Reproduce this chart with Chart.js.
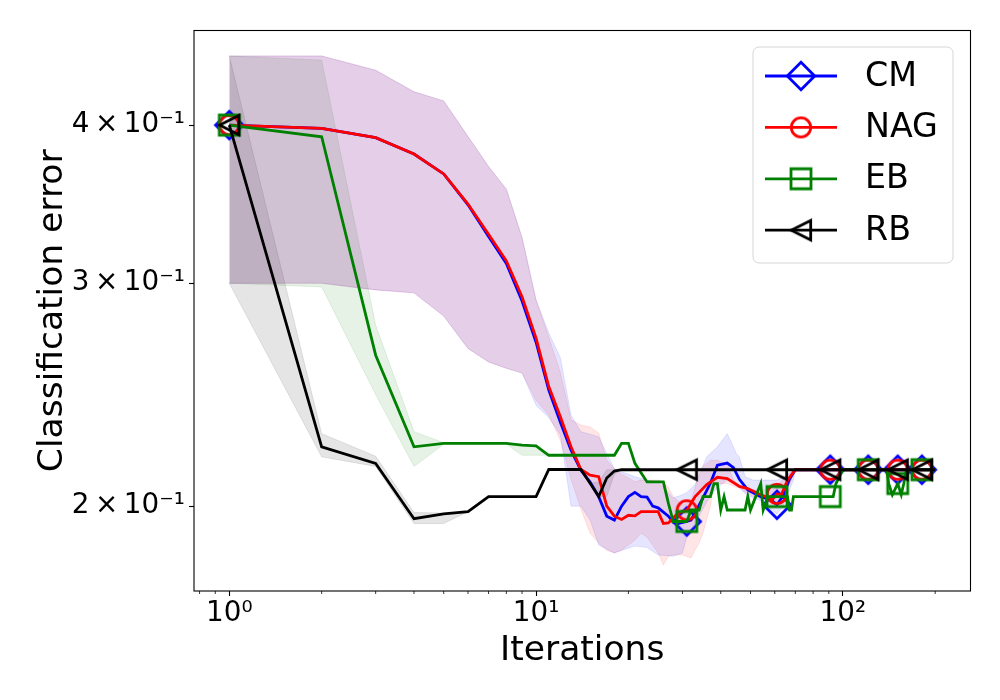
<!DOCTYPE html>
<html>
<head>
<meta charset="utf-8">
<script src="https://cdn.jsdelivr.net/npm/chart.js@4.4.0/dist/chart.umd.min.js"></script>
<style>
  html, body { margin: 0; padding: 0; background: #fff; }
  #wrap { width: 1000px; height: 700px; }
</style>
</head>
<body>
<div id="wrap"><canvas id="chart" width="1000" height="700"></canvas></div>
<script>
// mean curves (iteration -> classification error)
const cmX = [1,2,3,4,5,6,7,8,9,10,11,12,13,14,15,16,17,18,19,20,21,22,23,24,25,27,28,29,31,32,35,37,39,42,44,46,49,54,58,61,64,67,70,91,121,151,181,200];
const cmY = [0.4,0.3976,0.391,0.3795,0.366,0.346,0.3266,0.311,0.2905,0.2695,0.247,0.233,0.2214,0.2135,0.209,0.2035,0.1964,0.195,0.2,0.2035,0.2051,0.2035,0.2033,0.2,0.1994,0.1964,0.1942,0.1938,0.1945,0.195,0.203,0.2085,0.2155,0.2163,0.2145,0.21,0.206,0.2035,0.2025,0.2005,0.204,0.21,0.2137,0.2137,0.2137,0.2137,0.2137,0.2137];

const nagX = [1,2,3,4,5,6,7,8,9,10,11,12,13,14,15,16,17,18,19,20,21,22,25,26,27,29,31,33,36,39,42,46,49,54,59,61,63,66,70,91,121,151,181,200];
const nagY = [0.4,0.3976,0.391,0.3795,0.366,0.3465,0.328,0.3125,0.2927,0.2715,0.2486,0.2353,0.2228,0.2138,0.2116,0.211,0.2,0.1964,0.1952,0.1967,0.1965,0.198,0.198,0.1938,0.194,0.1975,0.1985,0.2035,0.208,0.2108,0.2103,0.2073,0.2065,0.2042,0.2025,0.2045,0.2042,0.2097,0.2137,0.2137,0.2137,0.2137,0.2137,0.2137];

const ebX = [1,2,3,4,5,8,9,10,11,18,19,20,21,23,26,27,28,31,32,34,35,37,38,39,40,41,42,48,49,50,52,54,55,57,61,66,67,68,69,91,93,95,100,121,139,141,145,151,155,158,161,181,200];
const ebY = [0.4,0.3916,0.2632,0.2228,0.2242,0.2242,0.2235,0.2232,0.2194,0.2194,0.2242,0.2242,0.2162,0.209,0.209,0.201,0.1945,0.1945,0.1986,0.1986,0.2035,0.2035,0.2084,0.2084,0.1986,0.2035,0.1986,0.1986,0.2035,0.1986,0.2035,0.2084,0.1986,0.2035,0.2035,0.2035,0.1986,0.1986,0.2035,0.2035,0.2035,0.2084,0.2137,0.2137,0.2137,0.2084,0.2042,0.2084,0.2042,0.2084,0.2137,0.2137,0.2137];

const rbX = [1,2,3,4,5,6,7,10,11,14,15,16,17,18,19,31,61,91,121,151,181,200];
const rbY = [0.4,0.2228,0.2162,0.1955,0.1972,0.198,0.2035,0.2035,0.2138,0.2138,0.2085,0.2035,0.2105,0.2132,0.2137,0.2137,0.2137,0.2137,0.2137,0.2137,0.2137,0.2137];

// spread bands (upper / lower)
const cmBandX = [1,2,3,4,5,6,7,8,9,10,11,12,13,14,15,16,18,21,23,25,28,30,31,33,36,39,42,43,45,46,48,51,54,61,64,66,69,70,200];
const cmHi = [0.4536,0.4536,0.442,0.425,0.418,0.3917,0.371,0.356,0.326,0.291,0.274,0.262,0.236,0.229,0.228,0.2268,0.214,0.211,0.2097,0.2091,0.203,0.2042,0.205,0.208,0.2188,0.2228,0.2282,0.2255,0.22,0.2188,0.211,0.2097,0.2097,0.2097,0.211,0.212,0.2135,0.2137,0.2137];
const cmLo = [0.30,0.30,0.2964,0.2948,0.2826,0.2664,0.26,0.257,0.2548,0.2403,0.235,0.2277,0.2,0.2,0.195,0.1864,0.1837,0.186,0.1855,0.183,0.1826,0.1837,0.189,0.1938,0.2015,0.207,0.2097,0.209,0.2084,0.207,0.2046,0.203,0.202,0.1972,0.2,0.204,0.2097,0.2137,0.2137];

const nagBandX = [1,2,3,4,5,6,7,8,9,10,11,12,13,14,15,16,17,18,19,21,22,23,25,26,27,28,30,31,32,33,34,35,37,38,39,42,44,46,47,51,52,58,59,61,64,68,69,70,200];
const nagHi = [0.4536,0.4536,0.442,0.425,0.418,0.3917,0.371,0.356,0.326,0.291,0.272,0.255,0.234,0.2318,0.231,0.2285,0.2174,0.214,0.212,0.2091,0.2097,0.2097,0.2097,0.209,0.207,0.2035,0.2004,0.201,0.202,0.207,0.2135,0.215,0.2174,0.2174,0.2174,0.216,0.2097,0.208,0.207,0.206,0.206,0.206,0.206,0.207,0.2105,0.213,0.2137,0.2137,0.2137];
const nagLo = [0.30,0.30,0.2964,0.2948,0.2826,0.2664,0.26,0.257,0.2548,0.2425,0.236,0.2255,0.21,0.199,0.1904,0.187,0.1845,0.1837,0.1847,0.188,0.1904,0.189,0.1837,0.1797,0.1826,0.183,0.183,0.1825,0.182,0.1847,0.187,0.1904,0.2,0.2084,0.2084,0.2084,0.2075,0.2065,0.206,0.2035,0.2032,0.202,0.202,0.2012,0.2035,0.2097,0.212,0.2137,0.2137];

const ebBandX = [1,2,3,4,5,8,9,10,11,12];
const ebHi = [0.4536,0.4502,0.278,0.229,0.2245,0.2242,0.2235,0.2232,0.2194,0.2194];
const ebLo = [0.30,0.298,0.245,0.215,0.2238,0.2238,0.2194,0.2194,0.2194,0.2194];

const rbBandX = [1,2,3,4,5,6,7,10,11,14,15,16,17,18,19];
const rbHi = [0.4536,0.2282,0.219,0.1977,0.1975,0.198,0.2035,0.2035,0.2138,0.2138,0.2085,0.209,0.2137,0.2137,0.2137];
const rbLo = [0.30,0.2188,0.215,0.1938,0.1938,0.198,0.2035,0.2035,0.2138,0.2138,0.2085,0.2035,0.2035,0.212,0.2137];

const markIters = [1, 31, 61, 91, 121, 151, 181];

const xTickValues = [1, 10, 100];
const xTickLabels = ['10\u2070', '10\u00b9', '10\u00b2'];
const xMinorTicks = [0.8, 0.9, 2, 3, 4, 5, 6, 7, 8, 9, 20, 30, 40, 50, 60, 70, 80, 90, 200];
const yTickValues = [0.2, 0.3, 0.4];
const yTickLabels = ['2\u2009\u00d7\u200910\u207b\u00b9', '3\u2009\u00d7\u200910\u207b\u00b9', '4\u2009\u00d7\u200910\u207b\u00b9'];

const FONT = 'DejaVu Sans';
Chart.defaults.font.family = FONT;
Chart.defaults.color = '#000';

function pts(xs, ys) {
    return xs.map((x, i) => ({ x: x, y: ys[i] }));
}

// hollow matplotlib-like markers
function makeMarker(shape, color) {
    const c = document.createElement('canvas');
    c.width = 40; c.height = 40;
    const g = c.getContext('2d');
    g.strokeStyle = color;
    g.lineWidth = 2.8;
    g.beginPath();
    if (shape === 'diamond') {
        g.moveTo(20, 6.3); g.lineTo(33.7, 20); g.lineTo(20, 33.7); g.lineTo(6.3, 20); g.closePath();
    } else if (shape === 'circle') {
        g.arc(20, 20, 9.7, 0, Math.PI * 2);
    } else if (shape === 'square') {
        g.rect(10, 10, 20, 20);
    } else {
        g.moveTo(10.3, 20); g.lineTo(29.7, 10.3); g.lineTo(29.7, 29.7); g.closePath();
    }
    g.stroke();
    return c;
}

function lineSet(label, xs, ys, color, shape, order) {
    const img = makeMarker(shape, color);
    return {
        label: label,
        data: pts(xs, ys),
        showLine: true,
        borderColor: color,
        backgroundColor: color,
        borderWidth: 2.8,
        fill: false,
        order: order,
        pointStyle: img,
        pointRadius: ctx => markIters.includes(xs[ctx.dataIndex]) ? 10 : 0,
        pointHoverRadius: 0,
        legendMarker: img
    };
}

function bandSets(xs, hi, lo, rgb, order) {
    const col = 'rgba(' + rgb + ',0.1)';
    return [
        { label: '', data: pts(xs, hi), showLine: true, borderColor: col, borderWidth: 1,
          backgroundColor: col, fill: '+1', pointRadius: 0, order: order, band: true },
        { label: '', data: pts(xs, lo), showLine: true, borderColor: col, borderWidth: 1,
          fill: false, pointRadius: 0, order: order, band: true }
    ];
}

const datasets = [
    lineSet('CM', cmX, cmY, '#0000ff', 'diamond', 3),
    lineSet('NAG', nagX, nagY, '#ff0000', 'circle', 2),
    lineSet('EB', ebX, ebY, '#008000', 'square', 1),
    lineSet('RB', rbX, rbY, '#000000', 'tri', 0),
    ...bandSets(cmBandX, cmHi, cmLo, '0,0,255', 10),
    ...bandSets(nagBandX, nagHi, nagLo, '255,0,0', 11),
    ...bandSets(ebBandX, ebHi, ebLo, '0,128,0', 12),
    ...bandSets(rbBandX, rbHi, rbLo, '0,0,0', 13)
];

// frame, minor ticks and boxed legend like matplotlib
const decorPlugin = {
    id: 'decor',
    afterDatasetsDraw(chart) {
        const ctx = chart.ctx;
        const a = chart.chartArea;
        const xs = chart.scales.x;
        ctx.save();
        ctx.strokeStyle = '#000';
        ctx.lineWidth = 1.1;
        ctx.strokeRect(a.left, a.top, a.right - a.left, a.bottom - a.top);
        ctx.lineWidth = 0.8;
        ctx.beginPath();
        xMinorTicks.forEach(v => {
            const px = xs.getPixelForValue(v);
            if (px < a.left || px > a.right) return;
            ctx.moveTo(px, a.bottom);
            ctx.lineTo(px, a.bottom + 3);
        });
        ctx.stroke();
        ctx.restore();
    },
    afterDraw(chart) {
        const ctx = chart.ctx;
        const a = chart.chartArea;
        const bx = a.right - 217.5, by = a.top + 16.5, bw = 200, bh = 216, r = 6;
        ctx.save();
        ctx.beginPath();
        ctx.moveTo(bx + r, by);
        ctx.arcTo(bx + bw, by, bx + bw, by + bh, r);
        ctx.arcTo(bx + bw, by + bh, bx, by + bh, r);
        ctx.arcTo(bx, by + bh, bx, by, r);
        ctx.arcTo(bx, by, bx + bw, by, r);
        ctx.closePath();
        ctx.fillStyle = 'rgba(255,255,255,0.8)';
        ctx.fill();
        ctx.strokeStyle = 'rgba(204,204,204,0.8)';
        ctx.lineWidth = 1;
        ctx.stroke();
        const lines = chart.data.datasets.filter(d => !d.band);
        ctx.font = '33.3px "' + FONT + '"';
        ctx.textBaseline = 'middle';
        ctx.textAlign = 'left';
        lines.forEach((d, i) => {
            const cy = by + 29 + i * 51.4;
            ctx.strokeStyle = d.borderColor;
            ctx.lineWidth = 2.8;
            ctx.beginPath();
            ctx.moveTo(bx + 12, cy);
            ctx.lineTo(bx + 84, cy);
            ctx.stroke();
            ctx.drawImage(d.legendMarker, bx + 48 - 20, cy - 20);
            ctx.fillStyle = '#000';
            ctx.fillText(d.label, bx + 112, cy + 1);
        });
        ctx.restore();
    }
};

new Chart(document.getElementById('chart'), {
    type: 'scatter',
    data: { datasets: datasets },
    options: {
        responsive: false,
        animation: false,
        events: [],
        layout: { padding: { top: 30.5, right: 29.5, left: 0, bottom: 0 } },
        plugins: {
            legend: { display: false },
            tooltip: { enabled: false }
        },
        scales: {
            x: {
                type: 'logarithmic',
                min: 0.7672,
                max: 260.7,
                bounds: 'data',
                afterBuildTicks: s => { s.ticks = xTickValues.map(v => ({ value: v })); },
                afterFit: s => { s.height = 109; },
                ticks: {
                    callback: (v, i) => xTickLabels[i],
                    font: { size: 27.8 },
                    color: '#000',
                    padding: 1,
                    maxRotation: 0,
                    autoSkip: false
                },
                grid: { drawOnChartArea: false, drawTicks: true, tickLength: 5, tickWidth: 1.1, tickColor: '#000' },
                border: { display: false },
                title: {
                    display: true,
                    text: 'Iterations',
                    font: { size: 34.5 },
                    color: '#000',
                    padding: { top: 0, bottom: 28 }
                }
            },
            y: {
                type: 'logarithmic',
                min: 0.1714,
                max: 0.4751,
                bounds: 'data',
                afterBuildTicks: s => { s.ticks = yTickValues.map(v => ({ value: v })); },
                afterFit: s => { s.width = 194; },
                ticks: {
                    callback: (v, i) => yTickLabels[i],
                    font: { size: 27.8 },
                    color: '#000',
                    padding: 4,
                    autoSkip: false
                },
                grid: { drawOnChartArea: false, drawTicks: true, tickLength: 5, tickWidth: 1.1, tickColor: '#000' },
                border: { display: false },
                title: {
                    display: true,
                    text: 'Classification error',
                    font: { size: 34.5 },
                    color: '#000',
                    padding: { top: 32, bottom: 0 }
                }
            }
        }
    },
    plugins: [decorPlugin]
});
</script>
</body>
</html>
